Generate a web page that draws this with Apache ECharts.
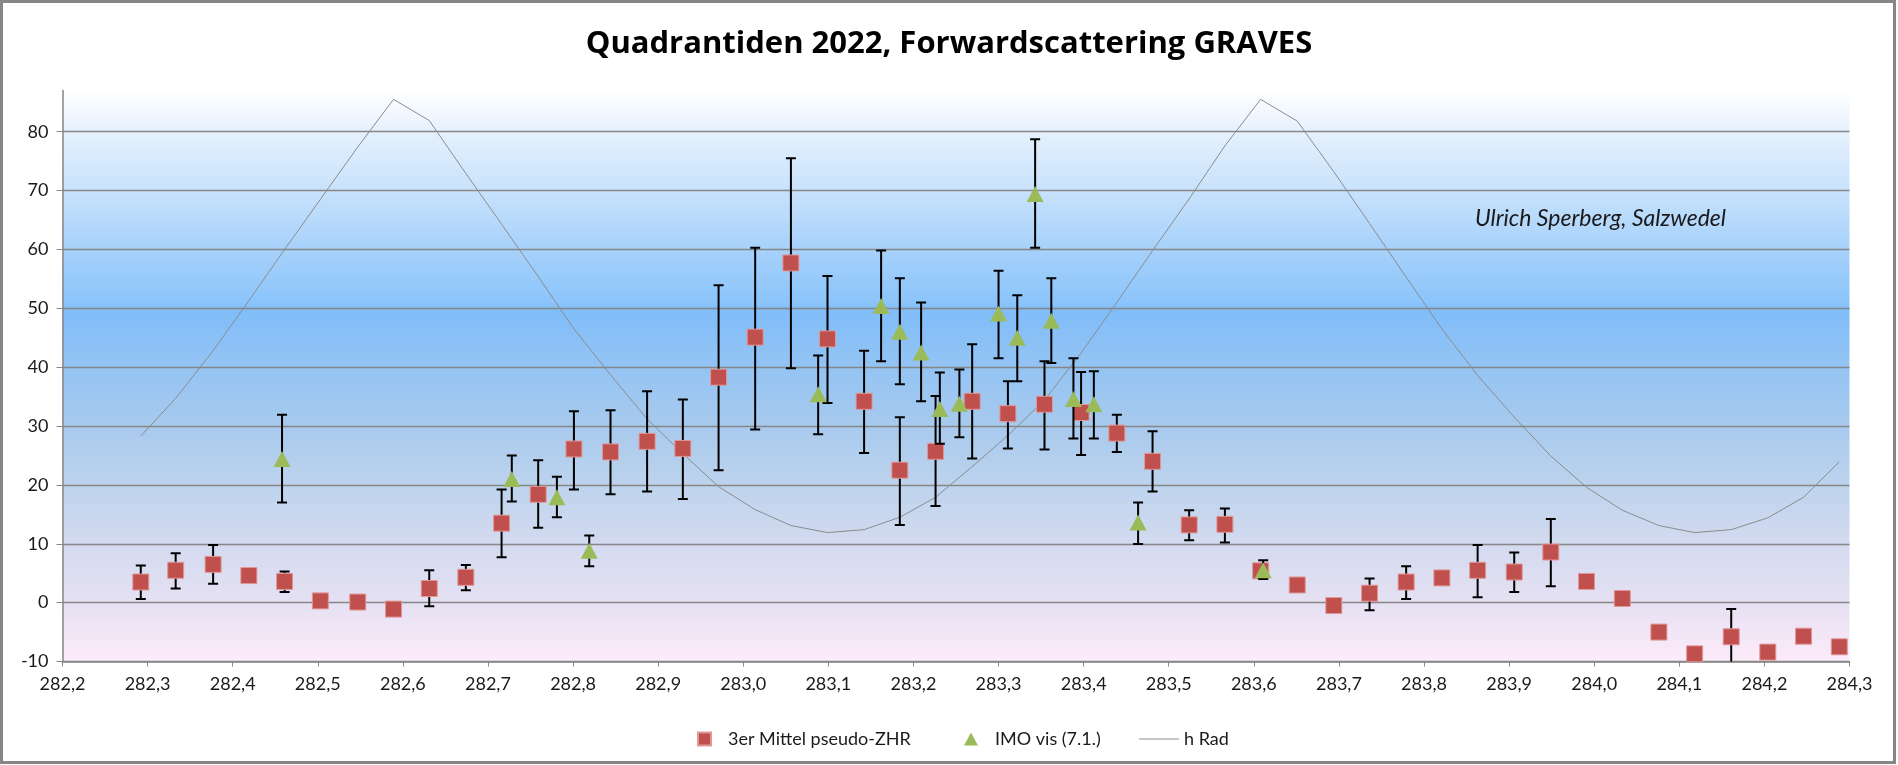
<!DOCTYPE html>
<html>
<head>
<meta charset="utf-8">
<title>Quadrantiden 2022, Forwardscattering GRAVES</title>
<script src="https://cdn.jsdelivr.net/npm/echarts/dist/echarts.min.js"></script>
<style>
html, body { margin: 0; padding: 0; background: #fff; }
#chart { width: 1898px; height: 765px; }
</style>
</head>
<body>
<div id="chart"></div>
<script>
// Sonnenlaenge der Stundenwerte (pseudo-ZHR und h Rad)
var lambdaHour = [282.292, 282.333, 282.377, 282.419, 282.461, 282.503, 282.547, 282.589, 282.631, 282.674,
    282.716, 282.759, 282.801, 282.844, 282.887, 282.929, 282.971, 283.014, 283.056, 283.099,
    283.142, 283.184, 283.226, 283.269, 283.311, 283.354, 283.397, 283.439, 283.481, 283.524,
    283.566, 283.608, 283.651, 283.694, 283.736, 283.779, 283.821, 283.863, 283.906, 283.949,
    283.991, 284.033, 284.076, 284.118, 284.161, 284.204, 284.246, 284.288];

// 3er Mittel pseudo-ZHR
var zhrMean = [3.5, 5.5, 6.5, 4.6, 3.6, 0.3, 0.1, -1.1, 2.4, 4.3,
    13.5, 18.4, 26.1, 25.6, 27.4, 26.2, 38.3, 45.1, 57.7, 44.8,
    34.2, 22.5, 25.7, 34.2, 32.1, 33.7, 32.3, 28.8, 24.0, 13.2,
    13.3, 5.4, 3.0, -0.5, 1.6, 3.5, 4.2, 5.5, 5.2, 8.6,
    3.6, 0.7, -5.0, -8.7, -5.8, -8.4, -5.7, -7.5];
var zhrHigh = [6.3, 8.4, 9.8, null, 5.3, null, null, null, 5.5, 6.4,
    19.2, 24.2, 32.5, 32.7, 35.9, 34.5, 53.9, 60.3, 75.5, 55.5,
    42.8, 31.5, 35.1, 43.9, 37.6, 41.0, 39.2, 31.9, 29.1, 15.7,
    16.0, null, null, null, 4.1, 6.2, null, 9.8, 8.5, 14.2,
    null, null, null, null, -1.1, null, null, null];
var zhrLow = [0.6, 2.4, 3.2, null, 1.8, null, null, null, -0.6, 2.1,
    7.7, 12.7, 19.2, 18.4, 18.9, 17.6, 22.5, 29.4, 39.8, 33.9,
    25.4, 13.2, 16.4, 24.5, 26.2, 26.0, 25.1, 25.6, 18.9, 10.6,
    10.2, null, null, null, -1.3, 0.6, null, 0.9, 1.8, 2.8,
    null, null, null, null, -12, null, null, null];

// h Rad (Radianthoehe)
var hRad = [28.3, 34.7, 42.8, 51.3, 60.0, 68.5, 77.4, 85.5, 81.9, 72.9,
    64.3, 55.4, 46.5, 38.7, 31.2, 25.3, 19.7, 15.8, 13.1, 11.9,
    12.4, 14.5, 17.9, 23.1, 28.4, 34.4, 42.4, 51.0, 59.8, 68.6,
    77.6, 85.5, 81.8, 73.2, 64.4, 55.3, 46.5, 38.6, 31.5, 24.9,
    19.6, 15.7, 13.1, 11.9, 12.4, 14.4, 17.9, 23.9];

// IMO vis (7.1.)
var lambdaImo = [282.458, 282.728, 282.781, 282.819, 283.088, 283.162, 283.184, 283.209, 283.231,
    283.254, 283.300, 283.322, 283.343, 283.362, 283.388, 283.412, 283.464, 283.611];
var imoZhr = [24.4, 21.0, 17.9, 8.8, 35.4, 50.4, 46.0, 42.5, 32.9,
    33.8, 49.1, 45.0, 69.4, 47.9, 34.6, 33.7, 13.6, 5.5];
var imoHigh = [31.9, 25.0, 21.4, 11.4, 42.0, 59.8, 55.1, 51.0, 39.1,
    39.6, 56.4, 52.2, 78.7, 55.1, 41.5, 39.3, 17.0, 7.2];
var imoLow = [17.0, 17.2, 14.5, 6.2, 28.6, 41.0, 37.1, 34.2, 27.0,
    28.1, 41.5, 37.6, 60.3, 40.7, 27.9, 27.9, 9.95, 4.0];

var FONT = 'Lato, "Open Sans", sans-serif';
var GRAY = '#868686';

function pairs(xs, ys) {
    return xs.map(function (x, i) { return [x, ys[i]]; });
}

function errData(xs, lo, hi) {
    var out = [];
    xs.forEach(function (x, i) {
        if (lo[i] != null && hi[i] != null) out.push([x, lo[i], hi[i]]);
    });
    return out;
}

// Fehlerbalken mit Querstrichen
function renderErr(params, api) {
    var x = api.value(0);
    var lo = api.coord([x, api.value(1)]);
    var hi = api.coord([x, api.value(2)]);
    var w = 5;
    var st = { stroke: '#000', lineWidth: 2 };
    return {
        type: 'group',
        children: [
            { type: 'line', shape: { x1: lo[0], y1: lo[1], x2: hi[0], y2: hi[1] }, style: st },
            { type: 'line', shape: { x1: hi[0] - w, y1: hi[1], x2: hi[0] + w, y2: hi[1] }, style: st },
            { type: 'line', shape: { x1: lo[0] - w, y1: lo[1], x2: lo[0] + w, y2: lo[1] }, style: st }
        ]
    };
}

var chart = echarts.init(document.getElementById('chart'));

chart.setOption({
    animation: false,
    backgroundColor: '#fff',
    textStyle: { fontFamily: FONT },
    title: {
        text: 'Quadrantiden 2022, Forwardscattering GRAVES',
        left: 'center',
        top: 24,
        textStyle: { fontFamily: '"Open Sans", Lato, sans-serif', fontWeight: 'bold', fontSize: 31, color: '#000' }
    },
    grid: {
        left: 62.5,
        right: 48.5,
        top: 90.5,
        bottom: 103.5,
        show: true,
        borderWidth: 0,
        backgroundColor: {
            type: 'linear', x: 0, y: 0, x2: 0, y2: 1,
            colorStops: [
                { offset: 0, color: '#ffffff' },
                { offset: 0.07, color: '#e6f1fd' },
                { offset: 0.175, color: '#c8e2fc' },
                { offset: 0.28, color: '#a6d1fb' },
                { offset: 0.37, color: '#8cc5fb' },
                { offset: 0.385, color: '#80bdf9' },
                { offset: 0.49, color: '#95c4f3' },
                { offset: 0.59, color: '#a8caee' },
                { offset: 0.69, color: '#bdd3ed' },
                { offset: 0.79, color: '#d2daef' },
                { offset: 0.9, color: '#e6e1f3' },
                { offset: 1, color: '#fdebfa' }
            ]
        }
    },
    legend: [{
        data: ['3er Mittel pseudo-ZHR'],
        left: 692, top: 725,
        icon: 'rect', itemWidth: 13, itemHeight: 13,
        textStyle: { fontFamily: FONT, fontSize: 18, color: '#1a1a1a', padding: [0, 0, 0, 12] }
    }, {
        data: ['IMO vis (7.1.)'],
        left: 959, top: 725,
        icon: 'triangle', itemWidth: 14, itemHeight: 13,
        textStyle: { fontFamily: FONT, fontSize: 18, color: '#1a1a1a', padding: [0, 0, 0, 12] }
    }, {
        data: [{ name: 'h Rad', icon: 'path://M0,0L40,0L40,1L0,1Z' }],
        left: 1134, top: 725,
        itemWidth: 40, itemHeight: 13,
        textStyle: { fontFamily: FONT, fontSize: 18, color: '#1a1a1a' }
    }],
    xAxis: {
        type: 'value',
        min: 282.2,
        max: 284.3,
        interval: 0.1,
        axisLine: { show: true, onZero: false, lineStyle: { color: GRAY, width: 1.5 } },
        axisTick: { show: true, length: 5, lineStyle: { color: GRAY } },
        axisLabel: {
            margin: 14, fontFamily: FONT, fontSize: 18, color: '#1a1a1a',
            formatter: function (v) { return v.toFixed(1).replace('.', ','); }
        },
        splitLine: { show: false }
    },
    yAxis: {
        type: 'value',
        min: -10,
        max: 87,
        interval: 10,
        axisLine: { show: true, lineStyle: { color: GRAY, width: 1.5 } },
        axisTick: { show: true, length: 6, lineStyle: { color: GRAY } },
        axisLabel: { margin: 14, fontFamily: FONT, fontSize: 18, color: '#1a1a1a', showMaxLabel: false },
        splitLine: { show: true, showMaxLine: false, lineStyle: { color: GRAY, width: 1.3 } }
    },
    graphic: [{
        type: 'text',
        left: 1475, top: 207,
        style: { text: 'Ulrich Sperberg, Salzwedel', fontFamily: FONT, fontStyle: 'italic', fontSize: 23, fill: '#1a1a1a' }
    }, {
        type: 'rect',
        silent: true,
        shape: { x: 1.5, y: 1.5, width: 1893, height: 761 },
        style: { fill: 'none', stroke: GRAY, lineWidth: 3 }
    }],
    series: [{
        name: 'h Rad',
        type: 'line',
        data: pairs(lambdaHour, hRad),
        symbol: 'none',
        showSymbol: false,
        lineStyle: { color: '#8c8c8c', width: 1 },
        itemStyle: { color: '#8c8c8c' },
        z: 1
    }, {
        name: 'errZhr',
        type: 'custom',
        data: errData(lambdaHour, zhrLow, zhrHigh),
        renderItem: renderErr,
        encode: { x: 0, y: [1, 2] },
        clip: true,
        z: 2
    }, {
        name: '3er Mittel pseudo-ZHR',
        type: 'scatter',
        data: pairs(lambdaHour, zhrMean),
        symbol: 'rect',
        symbolSize: 16,
        itemStyle: { color: '#c0504d', borderColor: '#e09896', borderWidth: 1, opacity: 1 },
        z: 3
    }, {
        name: 'errImo',
        type: 'custom',
        data: errData(lambdaImo, imoLow, imoHigh),
        renderItem: renderErr,
        encode: { x: 0, y: [1, 2] },
        clip: true,
        z: 4
    }, {
        name: 'IMO vis (7.1.)',
        type: 'scatter',
        data: pairs(lambdaImo, imoZhr),
        symbol: 'triangle',
        symbolSize: [17, 16],
        itemStyle: { color: '#9bbb59', opacity: 1 },
        z: 5
    }]
});
</script>
</body>
</html>
